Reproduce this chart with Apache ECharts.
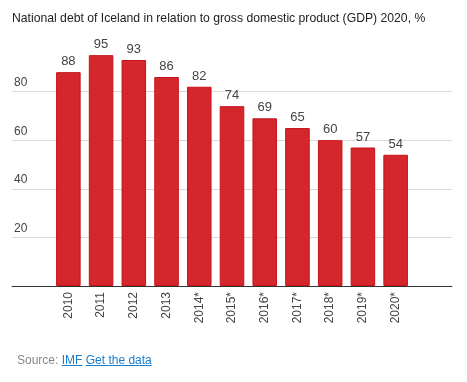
<!DOCTYPE html>
<html><head><meta charset="utf-8">
<script src="https://cdn.jsdelivr.net/npm/echarts@6/dist/echarts.min.js"></script>
<style>
html,body{margin:0;padding:0;background:#fff;}
#c{width:467px;height:382px;}
#src{position:absolute;left:17px;top:353px;font:12px Arial,"Liberation Sans",sans-serif;color:#888;}
#src a{color:#1a7dd0;text-decoration:underline;}
</style></head>
<body>
<div id="c"></div>
<div id="src">Source: <a>IMF</a> <a>Get the data</a></div>
<script>
const titleText = 'National debt of Iceland in relation to gross domestic product (GDP) 2020, %';
const categories = ['2010','2011','2012','2013','2014*','2015*','2016*','2017*','2018*','2019*','2020*'];
const debt = [88,95,93,86,82,74,69,65,60,57,54];
const yMin = 0, yMax = 100, yStep = 20;

const chart = echarts.init(document.getElementById('c'));
const font = 'Arial, "Liberation Sans", sans-serif';
chart.setOption({
  animation: false,
  title: {text: titleText, left: 7, top: 8, textStyle: {fontSize: 12.2, fontWeight: 'normal', color: '#222', fontFamily: font}},
  grid: [
    {left: 52, right: 55, top: 43, bottom: 96},
    {left: 12, right: 15, top: 43, bottom: 96}
  ],
  xAxis: [
    {type: 'category', gridIndex: 0, data: categories,
     axisLine: {show: false}, axisTick: {show: false},
     axisLabel: {rotate: 90, margin: 6, fontSize: 12, color: '#444', fontFamily: font}},
    {type: 'value', gridIndex: 1, min: 0, max: 1, show: true,
     axisLine: {show: true, onZero: false, lineStyle: {color: '#333', width: 1}},
     axisTick: {show: false}, axisLabel: {show: false}, splitLine: {show: false}}
  ],
  yAxis: [
    {type: 'value', gridIndex: 0, min: yMin, max: yMax, interval: yStep, show: false, splitLine: {show: false}},
    {type: 'value', gridIndex: 1, min: yMin, max: yMax, interval: yStep,
     axisLine: {show: false}, axisTick: {show: false},
     splitLine: {show: true, showMaxLine: false, showMinLine: false, lineStyle: {color: '#d9d9d9', width: 1}},
     axisLabel: {inside: true, showMinLabel: false, showMaxLabel: false, margin: 2, verticalAlign: 'bottom',
       padding: [0,0,3,0], fontSize: 12, color: '#444', fontFamily: font}}
  ],
  series: [{
    type: 'bar', xAxisIndex: 0, yAxisIndex: 0, data: debt,
    barCategoryGap: '25%',
    itemStyle: {color: '#d5262b', borderColor: '#c4141c', borderWidth: 1},
    label: {show: true, position: 'top', distance: 4, fontSize: 13, color: '#444', fontFamily: font}
  }]
});
</script>
</body></html>
